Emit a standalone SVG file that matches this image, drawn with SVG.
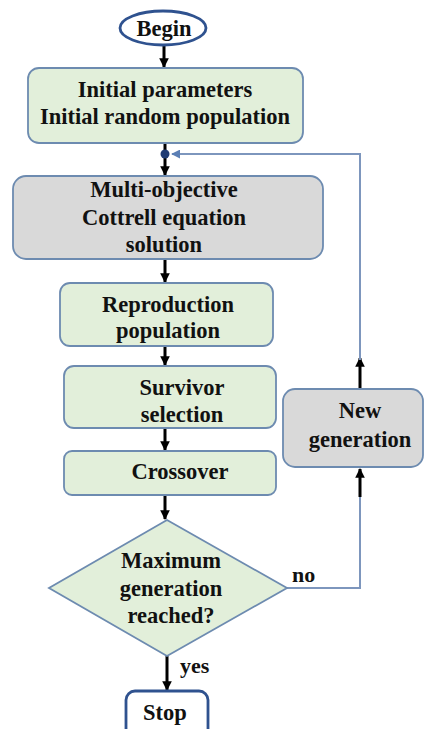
<svg xmlns="http://www.w3.org/2000/svg" width="427" height="729" viewBox="0 0 427 729">
<style>
text{font-family:"Liberation Serif","Times New Roman",serif;font-weight:bold;font-size:22.5px;fill:#111;text-anchor:middle}
.g{fill:#e2efda;stroke:#6d8bb0;stroke-width:1.8}
.gr{fill:#d9d9d9;stroke:#6d8bb0;stroke-width:1.8}
.term{fill:#fff;stroke:#2f528f;stroke-width:2.8}
.ar{stroke:#000;stroke-width:3;fill:none;marker-end:url(#ah)}
.bl{stroke:#7d96bd;stroke-width:2;fill:none}
.lab{text-anchor:start;font-size:22px}
</style>
<defs>
<marker id="ah" viewBox="0 0 10 10" refX="9" refY="5" markerWidth="3.2" markerHeight="3.2" orient="auto" markerUnits="strokeWidth">
<path d="M0,0L10,5L0,10Z" fill="#000"/>
</marker>
<marker id="bh" viewBox="0 0 10 10" refX="9" refY="5" markerWidth="4.5" markerHeight="4.5" orient="auto" markerUnits="strokeWidth">
<path d="M0,0L10,5L0,10Z" fill="#5b7fb5"/>
</marker>
</defs>
<g id="connectors">
<line class="ar" x1="164" y1="45" x2="164" y2="67"/>
<line class="ar" x1="165" y1="143" x2="165" y2="175"/>
<line class="ar" x1="165" y1="259" x2="165" y2="282"/>
<line class="ar" x1="165" y1="346" x2="165" y2="365"/>
<line class="ar" x1="165" y1="428" x2="165" y2="450"/>
<line class="ar" x1="165" y1="495" x2="165" y2="519"/>
<line class="ar" x1="167" y1="656" x2="167" y2="690"/>
<polyline class="bl" points="287,588 360,588 360,495"/>
<line class="ar" x1="360" y1="497" x2="360" y2="469"/>
<line class="ar" x1="360" y1="388" x2="360" y2="358"/>
<polyline class="bl" points="360,360 360,154 172,154" marker-end="url(#bh)"/>
<circle cx="165" cy="154" r="4.5" fill="#1f3b73"/>
<text class="lab" x="292" y="582">no</text>
<text class="lab" x="180" y="673">yes</text>
</g>
<g id="begin">
<ellipse class="term" cx="163" cy="28" rx="43" ry="17"/>
<text x="164" y="36">Begin</text>
</g>
<g id="initial">
<rect class="g" x="28" y="68" width="275" height="75" rx="11"/>
<text x="165" y="97">Initial parameters</text>
<text x="165" y="124">Initial random population</text>
</g>
<g id="multi">
<rect class="gr" x="13" y="176" width="310" height="83" rx="13"/>
<text x="164" y="197">Multi-objective</text>
<text x="164" y="225">Cottrell equation</text>
<text x="164" y="252">solution</text>
</g>
<g id="reproduction">
<rect class="g" x="60" y="283" width="213" height="63" rx="10"/>
<text x="168" y="312">Reproduction</text>
<text x="168" y="338">population</text>
</g>
<g id="survivor">
<rect class="g" x="64" y="366" width="212" height="62" rx="10"/>
<text x="182" y="395">Survivor</text>
<text x="182" y="422">selection</text>
</g>
<g id="crossover">
<rect class="g" x="64" y="451" width="212" height="44" rx="8"/>
<text x="180" y="479">Crossover</text>
</g>
<g id="decision">
<polygon class="g" points="167,520 287,588 167,656 49,588"/>
<text x="171" y="568">Maximum</text>
<text x="171" y="596">generation</text>
<text x="171" y="623">reached?</text>
</g>
<g id="newgen">
<rect class="gr" x="283" y="389" width="140" height="78" rx="12"/>
<text x="360" y="418">New</text>
<text x="360" y="447">generation</text>
</g>
<g id="stop">
<rect class="term" x="126" y="691" width="82" height="50" rx="9"/>
<text x="165" y="720">Stop</text>
</g>
</svg>
